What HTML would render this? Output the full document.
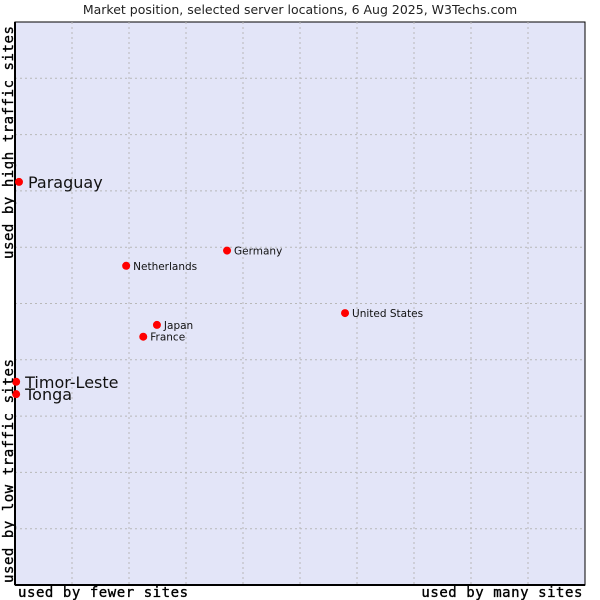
<!DOCTYPE html>
<html><head><meta charset="utf-8"><style>
body{margin:0;background:#fff;}
svg{display:block;}
</style></head><body>
<svg id="chart" width="600" height="600" xmlns="http://www.w3.org/2000/svg">
<text x="300" y="14" text-anchor="middle" font-family="DejaVu Sans, sans-serif" font-size="12.5" fill="#222">Market position, selected server locations, 6 Aug 2025, W3Techs.com</text>
<rect x="15" y="22" width="570" height="563" fill="#e3e5f8" stroke="#000" stroke-width="1"/>
<g id="grid"></g>
<line x1="15" y1="22" x2="15" y2="585" stroke="#000" stroke-width="2"/>
<line x1="15" y1="585" x2="585" y2="585" stroke="#000" stroke-width="2"/>
<g id="points"></g>
<g font-family="DejaVu Sans Mono, monospace" font-size="14" fill="#000" stroke="#000" stroke-width="0.35" letter-spacing="0.55">
<text x="18" y="597">used by fewer sites</text>
<text x="583" y="597" text-anchor="end">used by many sites</text>
<text transform="translate(13,583) rotate(-90)">used by low traffic sites</text>
<text transform="translate(13,259) rotate(-90)">used by high traffic sites</text>
</g>
</svg>
<script>
const names = ["Paraguay","Timor-Leste","Tonga","Netherlands","Germany","Japan","France","United States"];
const xValues = [0.7,0.2,0.2,19.5,37.2,24.9,22.5,57.9];
const yValues = [71.6,36.1,33.9,56.7,59.4,46.2,44.1,48.3];
const bigLabel = [true,true,true,false,false,false,false,false];
const NS="http://www.w3.org/2000/svg";
const L=15,T=22,W=570,H=563;
function sx(v){return L+v/100*W;}
function sy(v){return T+H-v/100*H;}
const grid=document.getElementById('grid');
for(let k=1;k<10;k++){
  const v=document.createElementNS(NS,'line');
  v.setAttribute('x1',sx(k*10));v.setAttribute('x2',sx(k*10));v.setAttribute('y1',T);v.setAttribute('y2',T+H);
  v.setAttribute('stroke','#b8b8b8');v.setAttribute('stroke-dasharray','2,3');
  
  
  grid.appendChild(v);
  const h=document.createElementNS(NS,'line');
  h.setAttribute('y1',sy(k*10));h.setAttribute('y2',sy(k*10));h.setAttribute('x1',L);h.setAttribute('x2',L+W);
  h.setAttribute('stroke','#b8b8b8');h.setAttribute('stroke-dasharray','2,3');
  
  
  grid.appendChild(h);
}
const pts=document.getElementById('points');
names.forEach((n,i)=>{
  const cx=sx(xValues[i]),cy=sy(yValues[i]);
  const c=document.createElementNS(NS,'circle');
  c.setAttribute('cx',cx);c.setAttribute('cy',cy);c.setAttribute('r',4);c.setAttribute('fill','#f00');
  
  
  pts.appendChild(c);
  const t=document.createElementNS(NS,'text');
  t.setAttribute('x',cx+(bigLabel[i]?9:7));
  t.setAttribute('y',cy+(bigLabel[i]?6:4));
  t.setAttribute('font-family','DejaVu Sans, sans-serif');
  t.setAttribute('font-size',bigLabel[i]?16:10.5);
  t.setAttribute('fill','#111');
  t.textContent=n;
  
  
  pts.appendChild(t);
});
</script>
</body></html>
